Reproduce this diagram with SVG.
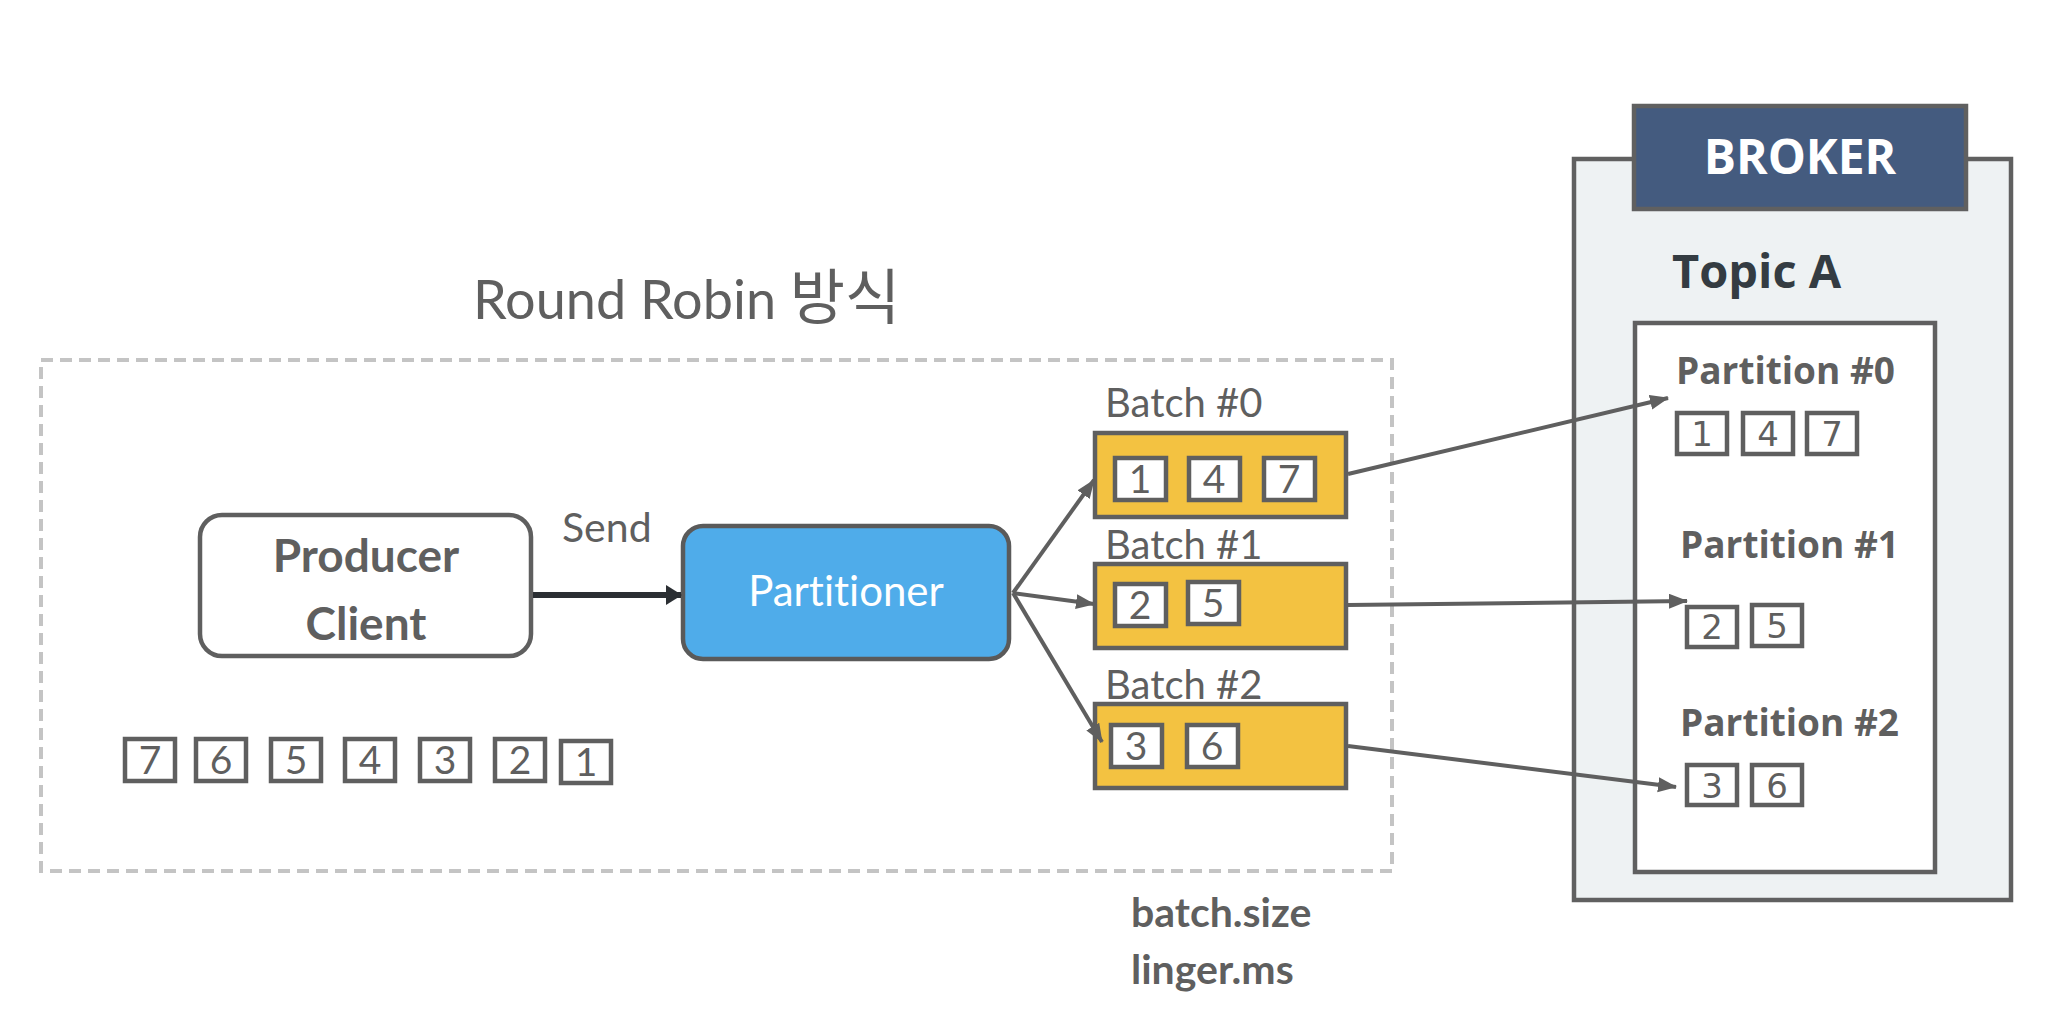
<svg xmlns="http://www.w3.org/2000/svg" width="2058" height="1016" viewBox="0 0 2058 1016">
<style>
text{font-variant-ligatures:none;font-feature-settings:"liga" 0}
.lato{font-family:Lato,"Noto Sans CJK KR",sans-serif;fill:#5f5f5f}
.os{font-family:"Open Sans",sans-serif;font-weight:bold}
.sq{fill:#fff;stroke:#5f5f5f;stroke-width:4.5}
.dl{font-family:Lato,sans-serif;font-size:39px;fill:#5f5f5f;text-anchor:middle}
.dp{font-family:"DejaVu Sans",sans-serif;font-size:34px;fill:#5f5f5f;text-anchor:middle}
.batch{fill:#f3c241;stroke:#5f5f5f;stroke-width:4.5}
.conn{stroke:#5f5f5f;stroke-width:4;fill:none;marker-end:url(#ah)}
</style>
<defs>
<marker id="ah" markerUnits="userSpaceOnUse" markerWidth="20" markerHeight="16" refX="18" refY="7.5" orient="auto">
<path d="M0,0 L19,7.5 L0,15 z" fill="#5f5f5f"/>
</marker>
<marker id="ahd" markerUnits="userSpaceOnUse" markerWidth="18" markerHeight="22" refX="15" refY="10" orient="auto">
<path d="M0,0 L16,10 L0,20 z" fill="#2b2f33"/>
</marker>
</defs>
<rect width="2058" height="1016" fill="#fff"/>

<g id="producer-area">
<rect x="41" y="360" width="1351" height="511" fill="none" stroke="#c4c4c4" stroke-width="4" stroke-dasharray="12 7"/>
<text class="lato" x="473" y="319" font-size="54">Round Robin <tspan font-size="60">방식</tspan></text>
</g>

<g id="producer-client">
<rect x="200" y="515" width="331" height="141" rx="22" fill="#fff" stroke="#5f5f5f" stroke-width="4.5"/>
<text class="lato" x="366" y="572" font-size="46" font-weight="bold" text-anchor="middle">Producer</text>
<text class="lato" x="366" y="640" font-size="46" font-weight="bold" text-anchor="middle">Client</text>
</g>

<g id="send-label">
<text class="lato" x="562" y="542" font-size="41">Send</text>
</g>

<g id="partitioner">
<rect x="683" y="526" width="326" height="133" rx="20" fill="#4facea" stroke="#5a5a5a" stroke-width="4.5"/>
<text x="846" y="606" font-family="Lato,sans-serif" font-size="42" fill="#fff" text-anchor="middle">Partitioner</text>
</g>

<g id="records">
<rect class="sq" x="125" y="739" width="50" height="42"/><text class="dl" x="150" y="774">7</text>
<rect class="sq" x="196" y="739" width="50" height="42"/><text class="dl" x="221" y="774">6</text>
<rect class="sq" x="271" y="739" width="50" height="42"/><text class="dl" x="296" y="774">5</text>
<rect class="sq" x="345" y="739" width="50" height="42"/><text class="dl" x="370" y="774">4</text>
<rect class="sq" x="420" y="739" width="50" height="42"/><text class="dl" x="445" y="774">3</text>
<rect class="sq" x="495" y="739" width="50" height="42"/><text class="dl" x="520" y="774">2</text>
<rect class="sq" x="561" y="741" width="50" height="42"/><text class="dl" x="586" y="776">1</text>
</g>

<g id="batch0">
<text class="lato" x="1105" y="417" font-size="40">Batch #0</text>
<rect class="batch" x="1095" y="433" width="251" height="84"/>
<rect class="sq" x="1115" y="458" width="51" height="42"/><text class="dl" x="1140" y="493">1</text>
<rect class="sq" x="1189" y="458" width="51" height="42"/><text class="dl" x="1214" y="493">4</text>
<rect class="sq" x="1264" y="458" width="51" height="42"/><text class="dl" x="1289" y="493">7</text>
</g>

<g id="batch1">
<text class="lato" x="1105" y="559" font-size="40">Batch #1</text>
<rect class="batch" x="1095" y="564" width="251" height="84"/>
<rect class="sq" x="1115" y="584" width="51" height="42"/><text class="dl" x="1140" y="619">2</text>
<rect class="sq" x="1188" y="582" width="51" height="42"/><text class="dl" x="1213" y="617">5</text>
</g>

<g id="batch2">
<text class="lato" x="1105" y="699" font-size="40">Batch #2</text>
<rect class="batch" x="1095" y="704" width="251" height="84"/>
<rect class="sq" x="1111" y="725" width="51" height="42"/><text class="dl" x="1136" y="760">3</text>
<rect class="sq" x="1187" y="725" width="51" height="42"/><text class="dl" x="1212" y="760">6</text>
</g>

<g id="config-labels">
<text class="lato" x="1131" y="927" font-size="41" font-weight="bold">batch.size</text>
<text class="lato" x="1131" y="984" font-size="41" font-weight="bold">linger.ms</text>
</g>

<g id="broker">
<rect x="1574" y="159" width="437" height="741" fill="#eef2f3" stroke="#606060" stroke-width="4.5"/>
<rect x="1634" y="106" width="332" height="103" fill="#445b7f" stroke="#606060" stroke-width="4.5"/>
<text class="os" x="1800" y="174" font-size="48" fill="#fff" text-anchor="middle">BROKER</text>
<text class="os" x="1672" y="288" font-size="47" fill="#343c42">Topic A</text>
</g>

<g id="topic-a-partitions">
<rect x="1635" y="323" width="300" height="549" fill="#fff" stroke="#606060" stroke-width="4.5"/>
</g>

<g id="partition0">
<text class="os" x="1676" y="384" font-size="37" fill="#5f5f5f">Partition #0</text>
<rect class="sq" x="1677" y="413" width="50" height="41"/><text class="dp" x="1702" y="446">1</text>
<rect class="sq" x="1743" y="413" width="50" height="41"/><text class="dp" x="1768" y="446">4</text>
<rect class="sq" x="1807" y="413" width="50" height="41"/><text class="dp" x="1832" y="446">7</text>
</g>

<g id="partition1">
<text class="os" x="1680" y="558" font-size="37" fill="#5f5f5f">Partition #1</text>
<rect class="sq" x="1687" y="607" width="50" height="40"/><text class="dp" x="1712" y="639">2</text>
<rect class="sq" x="1752" y="605" width="50" height="41"/><text class="dp" x="1777" y="638">5</text>
</g>

<g id="partition2">
<text class="os" x="1680" y="736" font-size="37" fill="#5f5f5f">Partition #2</text>
<rect class="sq" x="1687" y="765" width="50" height="40"/><text class="dp" x="1712" y="798">3</text>
<rect class="sq" x="1752" y="765" width="50" height="40"/><text class="dp" x="1777" y="798">6</text>
</g>

<g id="connectors">
<line x1="533" y1="595" x2="681" y2="595" stroke="#2b2f33" stroke-width="6" marker-end="url(#ahd)"/>
<line class="conn" x1="1013" y1="593" x2="1094" y2="480"/>
<line class="conn" x1="1013" y1="593" x2="1094" y2="604"/>
<line class="conn" x1="1013" y1="593" x2="1102" y2="742"/>
<line class="conn" x1="1348" y1="474" x2="1668" y2="398"/>
<line class="conn" x1="1348" y1="605" x2="1687" y2="601"/>
<line class="conn" x1="1348" y1="746" x2="1676" y2="787"/>
</g>
</svg>
